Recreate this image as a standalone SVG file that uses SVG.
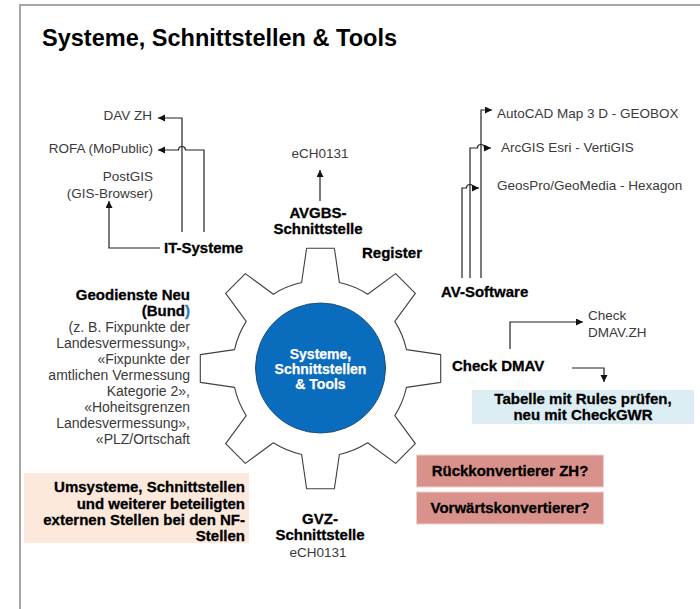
<svg xmlns="http://www.w3.org/2000/svg" width="700" height="609" viewBox="0 0 700 609">
<defs>
<style>
.reg{font-family:"Liberation Sans",Arial,sans-serif;font-size:13.5px;fill:#3a3a3a}
.reg14{font-family:"Liberation Sans",Arial,sans-serif;font-size:14px;fill:#3a3a3a}
.bold{font-family:"Liberation Sans",Arial,sans-serif;font-size:15px;font-weight:bold;fill:#000;stroke:#000;stroke-width:0.3}
.white{font-family:"Liberation Sans",Arial,sans-serif;font-size:14px;font-weight:bold;fill:#fff;stroke:#fff;stroke-width:0.25}
.conn{fill:none;stroke:#222;stroke-width:1.2}
.arr{marker-end:url(#ah)}
</style>
<marker id="ah" markerUnits="userSpaceOnUse" markerWidth="8" markerHeight="8" refX="7" refY="3.5" orient="auto">
<path d="M0,0 L7,3.5 L0,7 z" fill="#111"/>
</marker>
</defs>
<rect width="700" height="609" fill="#fff"/>
<path d="M20 609 V5 H700" fill="none" stroke="#a6a6a6" stroke-width="2"/>
<text id="title" x="42" y="46" font-family="'Liberation Sans',Arial,sans-serif" font-size="23" font-weight="bold" textLength="355" lengthAdjust="spacingAndGlyphs">Systeme, Schnittstellen &amp; Tools</text>

<g id="gear">
<path d="M301.6 282.55 L306.6 248.3 L334.4 248.3 L339.4 282.55 A88 88 0 0 1 367.65 294.2 L395.65 273.67 L415.33 293.35 L394.8 321.35 A88 88 0 0 1 406.45 349.6 L440.7 354.6 L440.7 382.4 L406.45 387.4 A88 88 0 0 1 394.8 415.65 L415.33 443.65 L395.65 463.33 L367.65 442.8 A88 88 0 0 1 339.4 454.45 L334.4 488.7 L306.6 488.7 L301.6 454.45 A88 88 0 0 1 273.35 442.8 L245.35 463.33 L225.67 443.65 L246.2 415.65 A88 88 0 0 1 234.55 387.4 L200.3 382.4 L200.3 354.6 L234.55 349.6 A88 88 0 0 1 246.2 321.35 L225.67 293.35 L245.35 273.67 L273.35 294.2 A88 88 0 0 1 301.6 282.55 Z" fill="#fff" stroke="#404040" stroke-width="1.1" stroke-linejoin="round"/>
</g>
<g id="center">
<circle cx="320.5" cy="368" r="65" fill="#0a6cbd" stroke="#1f4e79" stroke-width="1"/>
<text class="white" text-anchor="middle"><tspan x="320.5" y="359">Systeme,</tspan><tspan x="320.5" y="374">Schnittstellen</tspan><tspan x="320.5" y="389">&amp; Tools</tspan></text>
</g>

<g id="connectors">
<path class="conn arr" d="M182 232 V118 H158"/>
<path class="conn arr" d="M204 232 V150 H185.5 A3.5 3.5 0 0 0 178.5 150 H158"/>
<path class="conn arr" d="M160 248 H109 V201"/>
<path class="conn arr" d="M320 201 V170"/>
<path class="conn arr" d="M481 278 V110 H492"/>
<path class="conn arr" d="M470 278 V148 H477.5 A3.5 3.5 0 0 1 484.5 148 H491"/>
<path class="conn arr" d="M462 278 V188 H466.5 A3.5 3.5 0 0 1 473.5 188 H479"/>
<path class="conn arr" d="M510 349 V322 H583"/>
<path class="conn arr" d="M572 368 H604 V382"/>
</g>

<g id="it-targets">
<text class="reg" x="152" y="120" text-anchor="end">DAV ZH</text>
<text class="reg" x="153" y="153" text-anchor="end">ROFA (MoPublic)</text>
<text class="reg" text-anchor="end"><tspan x="153" y="181">PostGIS</tspan><tspan x="153" y="198">(GIS-Browser)</tspan></text>
</g>
<g id="it-systeme"><text class="bold" x="164" y="253">IT-Systeme</text></g>

<g id="avgbs">
<text class="reg" x="320" y="158" text-anchor="middle">eCH0131</text>
<text class="bold" text-anchor="middle"><tspan x="318" y="218">AVGBS-</tspan><tspan x="318" y="234">Schnittstelle</tspan></text>
</g>
<g id="register"><text class="bold" x="362" y="258">Register</text></g>

<g id="av-targets">
<text class="reg" x="497" y="118">AutoCAD Map 3 D - GEOBOX</text>
<text class="reg" x="501" y="152">ArcGIS Esri - VertiGIS</text>
<text class="reg" x="497" y="190">GeosPro/GeoMedia - Hexagon</text>
</g>
<g id="av-software"><text class="bold" x="441" y="297">AV-Software</text></g>

<g id="check-dmav"><text class="bold" x="452" y="371">Check DMAV</text></g>
<g id="check-dmav-zh"><text class="reg"><tspan x="588" y="320">Check</tspan><tspan x="588" y="337">DMAV.ZH</tspan></text></g>
<g id="tabelle">
<rect x="472" y="390" width="222" height="34" fill="#dcedf3"/>
<text class="bold" text-anchor="middle"><tspan x="583" y="404">Tabelle mit Rules prüfen,</tspan><tspan x="583" y="420">neu mit CheckGWR</tspan></text>
</g>

<g id="geodienste">
<text text-anchor="end"><tspan class="bold" x="190" y="300">Geodienste Neu</tspan><tspan class="bold" x="190" y="316">(Bund<tspan fill="#2e75b6" stroke="#2e75b6">)</tspan></tspan><tspan class="reg14" x="190" y="332">(z. B. Fixpunkte der</tspan><tspan class="reg14" x="190" y="348">Landesvermessung»,</tspan><tspan class="reg14" x="190" y="364">«Fixpunkte der</tspan><tspan class="reg14" x="190" y="380">amtlichen Vermessung</tspan><tspan class="reg14" x="190" y="396">Kategorie 2»,</tspan><tspan class="reg14" x="190" y="412">«Hoheitsgrenzen</tspan><tspan class="reg14" x="190" y="428">Landesvermessung»,</tspan><tspan class="reg14" x="190" y="444">«PLZ/Ortschaft</tspan></text>
</g>

<g id="umsysteme">
<rect x="24" y="473" width="225" height="70" fill="#fce9dc"/>
<text class="bold" text-anchor="end"><tspan x="245" y="492">Umsysteme, Schnittstellen</tspan><tspan x="245" y="508.5">und weiterer beteiligten</tspan><tspan x="245" y="525">externen Stellen bei den NF-</tspan><tspan x="245" y="541">Stellen</tspan></text>
</g>

<g id="gvz">
<text class="bold" text-anchor="middle"><tspan x="320" y="524">GVZ-</tspan><tspan x="320" y="540">Schnittstelle</tspan></text>
<text class="reg" x="318" y="557" text-anchor="middle">eCH0131</text>
</g>

<g id="rueck">
<rect x="416.5" y="455" width="187" height="32" fill="#d9918c" stroke="#f0cfcc" stroke-width="1"/>
<text class="bold" x="510" y="476" text-anchor="middle">Rückkonvertierer ZH?</text>
</g>
<g id="vorwaerts">
<rect x="416.5" y="492" width="187" height="32" fill="#d9918c" stroke="#f0cfcc" stroke-width="1"/>
<text class="bold" x="510" y="513" text-anchor="middle">Vorwärtskonvertierer?</text>
</g>
</svg>
